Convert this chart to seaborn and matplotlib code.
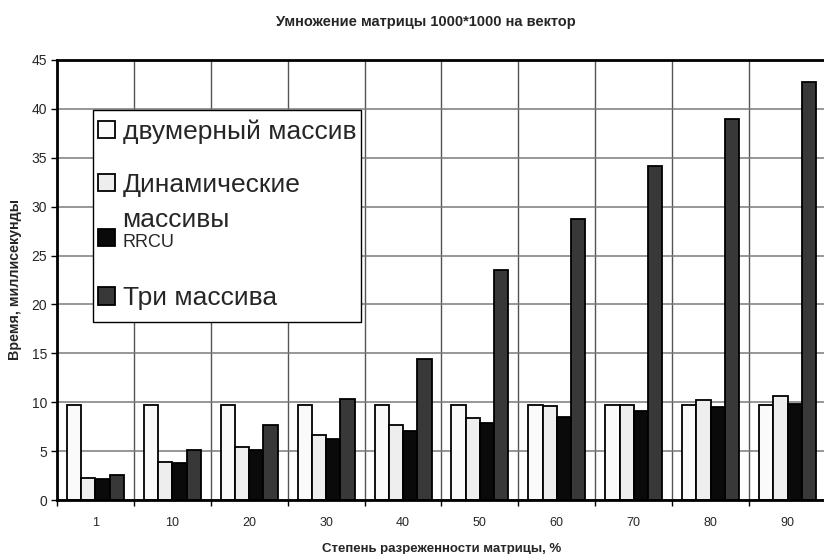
import matplotlib
matplotlib.use("Agg")
import matplotlib.pyplot as plt
from matplotlib.offsetbox import VPacker, DrawingArea
import seaborn as sns
import pandas as pd
import numpy as np

categories = ["1", "10", "20", "30", "40", "50", "60", "70", "80", "90"]
series_names = ["двумерный массив", "Динамические\nмассивы", "RRCU", "Три массива"]
two_dim = [9.72, 9.72, 9.72, 9.72, 9.72, 9.72, 9.72, 9.72, 9.72, 9.72]
dynamic = [2.24, 3.89, 5.4, 6.6, 7.63, 8.35, 9.62, 9.72, 10.2, 10.6]
rrcu = [2.13, 3.74, 5.08, 6.19, 7.04, 7.84, 8.5, 9.1, 9.5, 9.8]
three = [2.58, 5.15, 7.63, 10.3, 14.45, 23.55, 28.76, 34.16, 38.95, 42.78]
colors = ["#FAFAFA", "#EEEEEE", "#0A0A0A", "#383838"]

sns.set_theme(style="white")
plt.rcParams["font.family"] = ["Liberation Sans", "DejaVu Sans"]

rows = []
for name, vals in zip(series_names, [two_dim, dynamic, rrcu, three]):
    for c, v in zip(categories, vals):
        rows.append({"cat": c, "series": name, "value": v})
df = pd.DataFrame(rows)

fig = plt.figure(figsize=(8.24, 5.54), dpi=100)
ax = fig.add_axes([57 / 824, 54 / 554, 769 / 824, 440 / 554])

sns.barplot(data=df, x="cat", y="value", hue="series", order=categories,
            hue_order=series_names, palette=colors, width=0.74,
            edgecolor="black", linewidth=1.3, ax=ax, legend=True)

ax.set_ylim(0, 45)
ax.set_xlim(-0.5, len(categories) - 0.5)
ax.set_yticks(np.arange(0, 46, 5))
ax.set_xticks(np.arange(len(categories) + 1) - 0.5, minor=True)
ax.set_axisbelow(True)
ax.yaxis.grid(True, color="#7a7a7a", linewidth=1.1)
ax.xaxis.grid(True, which="minor", color="#555555", linewidth=1.0)
ax.xaxis.grid(False, which="major")
ax.tick_params(axis="x", which="major", length=0, labelsize=9, pad=12)
ax.tick_params(axis="x", which="minor", length=4, width=1, color="black", direction="out", bottom=True)
ax.tick_params(axis="y", length=4, width=1, color="black", direction="out", left=True, labelsize=10, pad=3)

for side in ["left", "bottom", "top"]:
    ax.spines[side].set_visible(True)
    ax.spines[side].set_color("black")
    ax.spines[side].set_linewidth(2)
ax.spines["right"].set_visible(False)

ax.set_xlabel("Степень разреженности матрицы, %", fontsize=9.5, fontweight="bold", labelpad=10)
ax.set_ylabel("Время, миллисекунды", fontsize=10.3, fontweight="bold", labelpad=7)
fig.text(426 / 824, 1 - 22 / 554, "Умножение матрицы 1000*1000 на вектор",
         ha="center", va="center", fontsize=10.5, fontweight="bold")

handles, labels = ax.get_legend_handles_labels()
leg = ax.legend(handles, labels, loc="upper left", bbox_to_anchor=(93 / 824, 1 - 110 / 554),
                bbox_transform=fig.transFigure, borderaxespad=0, fontsize=19,
                frameon=True, fancybox=False, edgecolor="black", framealpha=1,
                handlelength=0.62, handleheight=0.62, handletextpad=0.3,
                labelspacing=1.0, borderpad=0.2)
leg.get_frame().set_linewidth(1.0)
texts = leg.get_texts()
texts[1].set_linespacing(1.58)
texts[2].set_fontsize(13)
for h in leg.legend_handles:
    h.set_edgecolor("black")
    h.set_linewidth(1.3)

# Excel-like irregular legend spacing
col = leg._legend_handle_box.get_children()[0]
items = list(col.get_children())
h2, t2 = items[1].get_children()
items[1].align = "top"
items[1]._children = [VPacker(pad=0, sep=0, align="left",
                              children=[DrawingArea(0.1, 0.8), h2]), t2]
inner = VPacker(pad=0, sep=-2.2, align="baseline", children=[items[1], items[2]])
upper = VPacker(pad=0, sep=21, align="baseline",
                children=[VPacker(pad=0, sep=0, align="baseline",
                                  children=[DrawingArea(0.1, 3), items[0]]), inner])
lower = VPacker(pad=0, sep=0, align="baseline", children=[items[3], DrawingArea(0.1, 4.5)])
col._children = [upper, lower]
col.sep = 25.5

fig.savefig("out.png", dpi=100)
